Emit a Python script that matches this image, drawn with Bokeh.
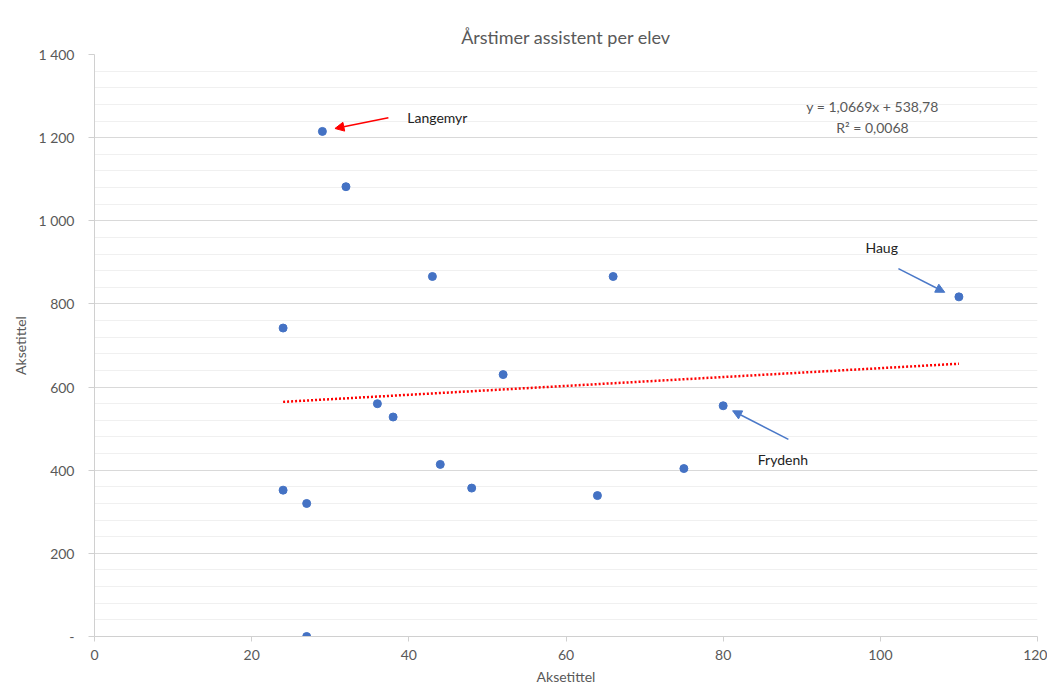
from bokeh.plotting import figure
from bokeh.models import Range1d, FixedTicker, Label, Arrow, NormalHead, Title
from bokeh.embed import file_html
from bokeh.resources import INLINE

# ---- data ----
elever = [29, 32, 24, 43, 66, 110, 52, 36, 38, 80, 44, 48, 64, 75, 24, 27, 27]
timer = [1215, 1082, 742, 866, 866, 817, 630, 560, 528, 555, 414, 357, 339, 404, 352, 320, 0]

slope = 1.0669
intercept = 538.78
r2 = "0,0068"

x_ticks = [0, 20, 40, 60, 80, 100, 120]
y_ticks = [0, 200, 400, 600, 800, 1000, 1200, 1400]
y_tick_labels = ["-", "200", "400", "600", "800", "1 000", "1 200", "1 400"]

title_text = "Årstimer assistent per elev"
x_title = "Aksetittel"
y_title = "Aksetittel"

# annotations: (name, text_x, text_y, arrow_x0, arrow_y0, arrow_x1, arrow_y1, colour)
notes = [
    ("Langemyr", 39.8, 1248, 37.4, 1248, 30.6, 1222, "#ff0000"),
    ("Haug", 98.1, 936, 102.3, 885, 108.2, 828, "#4a78c8"),
    ("Frydenh", 84.4, 426, 88.3, 474, 81.2, 543, "#4a78c8"),
]

FONT = "Lato"
GREY = "#595959"

p = figure(width=1047, height=689, output_backend="svg", toolbar_location=None,
           x_range=Range1d(0, 120), y_range=Range1d(0, 1400),
           min_border_left=94, min_border_top=54, min_border_bottom=53, min_border_right=10)
p.outline_line_color = None
p.background_fill_color = "white"
p.border_fill_color = "white"

# titles
p.add_layout(Title(text=title_text, align="center", offset=-30, text_font=FONT,
                   text_font_size="18px", text_font_style="normal", text_color=GREY,
                   standoff=13), "above")
p.add_layout(Title(text=x_title, align="center", offset=-30, text_font=FONT,
                   text_font_size="14px", text_font_style="normal", text_color=GREY,
                   standoff=6), "below")

# axes
p.xaxis.ticker = FixedTicker(ticks=x_ticks)
p.yaxis.ticker = FixedTicker(ticks=y_ticks, minor_ticks=list(range(0, 1401, 40)))
p.yaxis.major_label_overrides = {t: l for t, l in zip(y_ticks, y_tick_labels)}
for ax in (p.xaxis[0], p.yaxis[0]):
    ax.axis_line_color = "#d0d0d0"
    ax.major_tick_line_color = "#d0d0d0"
    ax.major_tick_in = 0
    ax.minor_tick_line_color = None
    ax.major_label_text_font = FONT
    ax.major_label_text_font_size = "14px"
    ax.major_label_text_color = GREY
p.xaxis.major_tick_out = 5
p.xaxis.major_label_standoff = 8
p.yaxis.major_tick_out = 6
p.yaxis.major_label_standoff = 14
p.yaxis.axis_label = y_title
p.yaxis.axis_label_text_font = FONT
p.yaxis.axis_label_text_font_size = "14px"
p.yaxis.axis_label_text_font_style = "normal"
p.yaxis.axis_label_text_color = GREY
p.yaxis.axis_label_standoff = 6

# grid
p.xgrid.grid_line_color = None
p.ygrid.grid_line_color = "#d9d9d9"
p.ygrid.minor_grid_line_color = "#f0f0f0"

# trendline
tx = [min(elever), max(elever)]
ty = [slope * v + intercept for v in tx]
p.line(tx, ty, line_color="#ff0000", line_width=2.5, line_dash="2 2")

# points
p.scatter(elever, timer, size=8, fill_color="#4472c4", line_color="#4472c4")

# equation
eq = "y = " + f"{slope:.4f}".replace(".", ",") + "x + " + f"{intercept:.2f}".replace(".", ",")
p.add_layout(Label(x=99.0, y=1275, text=eq, text_font=FONT, text_font_size="14px",
                   text_color=GREY, text_align="center", text_baseline="middle"))
p.add_layout(Label(x=99.0, y=1224, text="R² = " + r2, text_font=FONT, text_font_size="14px",
                   text_color=GREY, text_align="center", text_baseline="middle"))

# annotations
for name, lx, ly, ax0, ay0, ax1, ay1, col in notes:
    p.add_layout(Label(x=lx, y=ly, text=name, text_font=FONT, text_font_size="14px",
                       text_color="#222222", text_align="left", text_baseline="middle"))
    p.add_layout(Arrow(x_start=ax0, y_start=ay0, x_end=ax1, y_end=ay1, line_color=col,
                       line_width=1.5,
                       end=NormalHead(size=9, fill_color=col, line_color=col)))

open("out.html", "w").write(file_html(p, INLINE))
